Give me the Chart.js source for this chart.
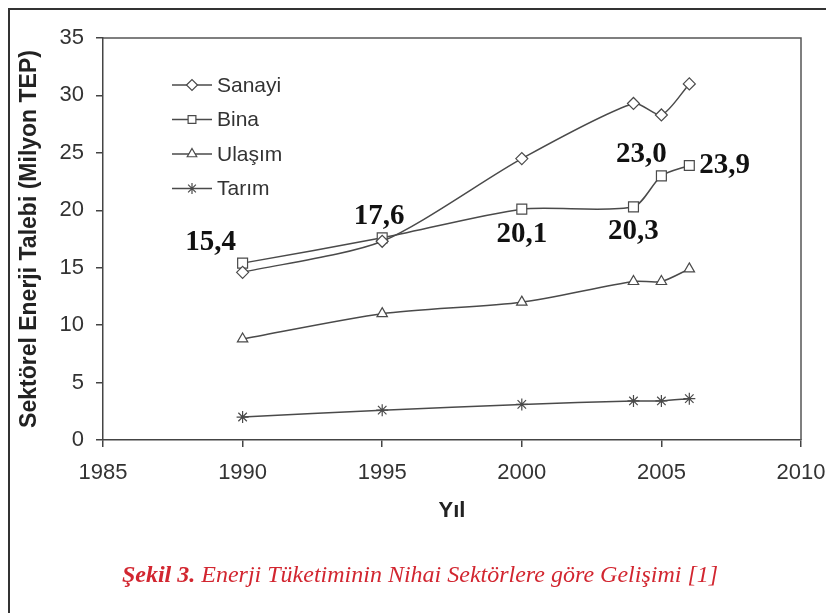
<!DOCTYPE html>
<html>
<head>
<meta charset="utf-8">
<script src="https://cdn.jsdelivr.net/npm/chart.js"></script>
<style>
  body { margin: 0; background: #fff; }
  #wrap { position: relative; width: 826px; height: 613px; }
  #caption {
    position: absolute; left: 0; width: 840px; top: 561px;
    text-align: center; font-family: "Liberation Serif", "Times New Roman", serif;
    font-style: italic; font-size: 24px; color: #d22630;
  }
</style>
</head>
<body>
<div id="wrap">
  <canvas id="myChart" width="826" height="613"></canvas>
  <div id="caption"><b>Şekil 3.</b> Enerji Tüketiminin Nihai Sektörlere göre Gelişimi [1]</div>
</div>
<script>
    const years = [1990, 1995, 2000, 2004, 2005, 2006]
    const sanayi = [14.6, 17.3, 24.5, 29.3, 28.3, 31.0]
    const bina = [15.4, 17.6, 20.1, 20.3, 23.0, 23.9]
    const ulasim = [8.8, 11.0, 12.0, 13.8, 13.8, 14.9]
    const tarim = [2.0, 2.6, 3.1, 3.4, 3.4, 3.6]
    const seriesNames = ['Sanayi', 'Bina', 'Ulaşım', 'Tarım']
    const markers = ['rectRot', 'rect', 'triangle', 'star']

    // where each Bina value label sits relative to its point
    const labelPlace = [
        {dx: -32, dy: -21, align: 'center'},
        {dx: -3, dy: -21, align: 'center'},
        {dx: 0, dy: 25, align: 'center'},
        {dx: 0, dy: 25, align: 'center'},
        {dx: -20, dy: -21, align: 'center'},
        {dx: 10, dy: 0, align: 'left'}
    ]

    const lineColor = '#4a4a4a'
    const sans = '"Liberation Sans", Arial, sans-serif'

    function toPoints(values) {
        return values.map((v, i) => ({x: years[i], y: v}))
    }

    const seriesData = [sanayi, bina, ulasim, tarim]
    const datasets = seriesData.map((vals, i) => ({
        label: seriesNames[i],
        data: toPoints(vals),
        borderColor: lineColor,
        borderWidth: 1.5,
        tension: 0.25,
        pointStyle: markers[i],
        pointRadius: markers[i] == 'rect' ? 7 : 6,
        pointBackgroundColor: '#fff',
        pointBorderColor: lineColor,
        pointBorderWidth: 1.2
    }))

    const frame = {
        id: 'frame',
        afterDraw(chart) {
            const {ctx, chartArea: a} = chart
            ctx.save()
            ctx.strokeStyle = '#555'
            ctx.lineWidth = 1.5
            ctx.beginPath()
            ctx.moveTo(a.left, a.top)
            ctx.lineTo(a.right, a.top)
            ctx.lineTo(a.right, a.bottom)
            ctx.stroke()
            // outer page frame
            ctx.strokeStyle = '#333'
            ctx.lineWidth = 2
            ctx.beginPath()
            ctx.moveTo(826, 9)
            ctx.lineTo(9, 9)
            ctx.lineTo(9, 613)
            ctx.stroke()
            ctx.restore()
        }
    }

    const legendBox = {
        id: 'legendBox',
        afterDraw(chart) {
            const ctx = chart.ctx
            ctx.save()
            chart.data.datasets.forEach((ds, i) => {
                const y = 85 + i * 34.5
                ctx.strokeStyle = lineColor
                ctx.lineWidth = 1.5
                ctx.beginPath()
                ctx.moveTo(172, y)
                ctx.lineTo(212, y)
                ctx.stroke()
                ctx.fillStyle = '#fff'
                ctx.lineWidth = 1.2
                if (Chart.helpers && Chart.helpers.drawPoint) {
                    Chart.helpers.drawPoint(ctx, {pointStyle: ds.pointStyle, radius: 5.5, rotation: 0, borderWidth: 1.2}, 192, y)
                }
                ctx.fillStyle = '#333'
                ctx.font = '21px ' + sans
                ctx.textAlign = 'left'
                ctx.textBaseline = 'middle'
                ctx.fillText(ds.label, 217, y + 1)
            })
            ctx.restore()
        }
    }

    const binaLabels = {
        id: 'binaLabels',
        afterDatasetsDraw(chart) {
            const ctx = chart.ctx
            const meta = chart.getDatasetMeta(1)
            ctx.save()
            ctx.fillStyle = '#111'
            ctx.font = 'bold 29px "Liberation Serif", "Times New Roman", serif'
            ctx.textBaseline = 'middle'
            meta.data.forEach((pt, i) => {
                const p = labelPlace[i]
                ctx.textAlign = p.align
                ctx.fillText(bina[i].toFixed(1).replace('.', ','), pt.x + p.dx, pt.y + p.dy)
            })
            ctx.restore()
        }
    }

    Chart.defaults.font.family = sans
    Chart.defaults.color = '#333'

    const ctx = document.getElementById('myChart')
    const myChart = new Chart(ctx, {
        type: 'line',
        data: {datasets: datasets},
        plugins: [frame, legendBox, binaLabels],
        options: {
            responsive: false,
            animation: false,
            layout: {padding: {left: 0, top: 38, right: 0, bottom: 88}},
            plugins: {legend: {display: false}, tooltip: {enabled: false}},
            scales: {
                x: {
                    type: 'linear',
                    min: 1985,
                    max: 2010,
                    afterFit: (s) => { s.height = 85; s.paddingRight = 25 },
                    ticks: {stepSize: 5, padding: 13, font: {size: 22}, color: '#333', callback: v => String(v)},
                    grid: {display: true, drawOnChartArea: false, tickLength: 7, color: '#444', lineWidth: 1.5},
                    border: {display: true, color: '#444', width: 1.5},
                    title: {display: true, text: 'Yıl', font: {size: 22, weight: 'bold'}, color: '#222', padding: {top: 0, bottom: 1}}
                },
                y: {
                    min: 0,
                    max: 35,
                    afterFit: (s) => { s.width = 103 },
                    ticks: {stepSize: 5, padding: 12, font: {size: 22}, color: '#333'},
                    grid: {display: true, drawOnChartArea: false, tickLength: 7, color: '#444', lineWidth: 1.5},
                    border: {display: true, color: '#444', width: 1.5},
                    title: {display: true, text: 'Sektörel Enerji Talebi (Milyon TEP)', font: {size: 23, weight: 'bold'}, color: '#222', padding: {top: 16, bottom: 0}}
                }
            }
        }
    })
</script>
</body>
</html>
